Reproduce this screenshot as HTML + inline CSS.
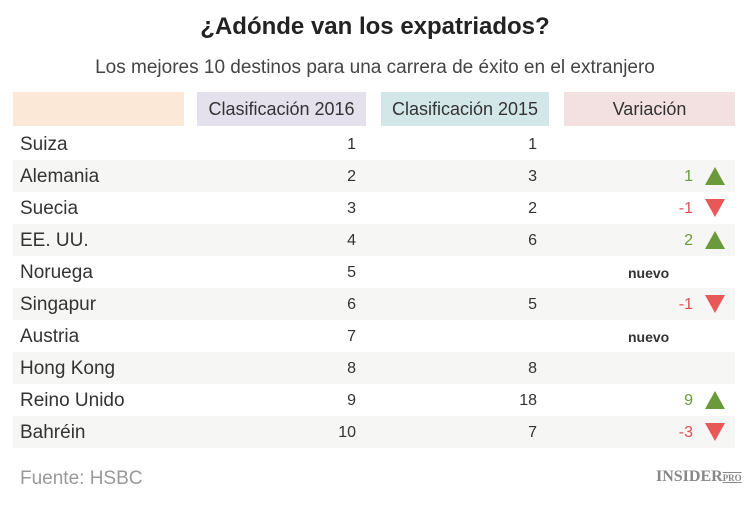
<!DOCTYPE html>
<html><head><meta charset="utf-8"><style>
*{margin:0;padding:0;box-sizing:border-box}
body{width:750px;height:510px;background:#fff;font-family:"Liberation Sans",sans-serif;position:relative;overflow:hidden;color:#333}
.a{position:absolute;white-space:nowrap}
.h{position:absolute;top:92px;height:34px;line-height:35px;text-align:center;font-size:18px;color:#333}
.row{position:absolute;left:13px;width:722px;height:32px}
.c{position:absolute;top:1px;line-height:32px;font-size:19px}
.tri{position:absolute;width:0;height:0}
</style></head><body>
<div class="a" style="top:13px;width:750px;text-align:center;font-size:24px;font-weight:bold;color:#222">¿Adónde van los expatriados?</div>
<div class="a" style="top:57px;width:750px;text-align:center;font-size:19px;color:#444">Los mejores 10 destinos para una carrera de éxito en el extranjero</div>
<div class="h" style="left:13px;width:171px;background:#fbe8d6"></div>
<div class="h" style="left:197px;width:169px;background:#e4e0ec">Clasificación 2016</div>
<div class="h" style="left:381px;width:168px;background:#d4e7e8">Clasificación 2015</div>
<div class="h" style="left:564px;width:171px;background:#f3e0e1">Variación</div>
<div id="rows"></div>
<script>
var d=[["Suiza",1,1,"",""],["Alemania",2,3,"1","u"],["Suecia",3,2,"-1","d"],["EE. UU.",4,6,"2","u"],["Noruega",5,"","nuevo","n"],["Singapur",6,5,"-1","d"],["Austria",7,"","nuevo","n"],["Hong Kong",8,8,"",""],["Reino Unido",9,18,"9","u"],["Bahréin",10,7,"-3","d"]];
var h="";
d.forEach(function(r,i){
var y=128+i*32;
h+='<div class="row" style="top:'+y+'px;background:'+(i%2?'#f6f6f4':'#fff')+'">';
h+='<div class="c" style="left:7px">'+r[0]+'</div>';
h+='<div class="c" style="right:379px;font-size:16px">'+r[1]+'</div>';
h+='<div class="c" style="right:198px;font-size:16px">'+r[2]+'</div>';
if(r[4]=="n")h+='<div class="c" style="left:615px;font-size:14px;font-weight:bold">nuevo</div>';
else if(r[4]){var col=r[4]=="u"?"#6a9a3a":"#e05050";
h+='<div class="c" style="right:42px;font-size:16px;color:'+col+'">'+r[3]+'</div>';
if(r[4]=="u")h+='<div class="tri" style="left:692px;top:7px;border-left:10px solid transparent;border-right:10px solid transparent;border-bottom:18px solid #6a9a3a"></div>';
else h+='<div class="tri" style="left:692px;top:7px;border-left:10px solid transparent;border-right:10px solid transparent;border-top:18px solid #e85858"></div>';}
h+='</div>';});
document.getElementById("rows").innerHTML=h;
</script>
<div class="a" style="left:20px;top:468px;font-size:19px;color:#999">Fuente: HSBC</div>
<div class="a" style="left:656px;top:468px;font-family:'Liberation Serif',serif;font-weight:bold;font-size:16px;color:#888">INSIDER<span style="font-size:9px;text-decoration:underline overline">PRO</span></div>
</body></html>
